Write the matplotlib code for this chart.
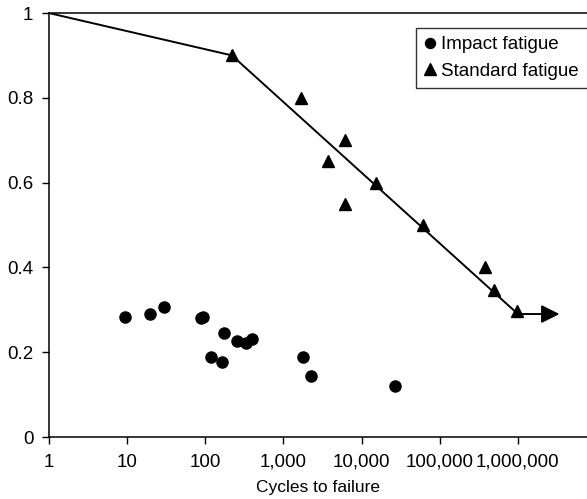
import numpy as np
import matplotlib
matplotlib.use("Agg")
import matplotlib.pyplot as plt
from matplotlib.ticker import FixedLocator, FixedFormatter

plt.rcParams['font.family'] = ['Liberation Sans', 'DejaVu Sans']

# impact fatigue points (cycles, stress ratio)
impact_cycles = [9.5, 20, 29.5, 89, 95, 118, 174, 165, 257, 333, 395, 1800, 2280, 26500]
impact_ratio = [0.284, 0.289, 0.307, 0.280, 0.284, 0.189, 0.246, 0.178, 0.227, 0.222, 0.230,
                0.188, 0.145, 0.121]

# standard fatigue points
std_cycles = [220, 1660, 3700, 6200, 6200, 15400, 60700, 377000, 500000, 980000]
std_ratio = [0.90, 0.80, 0.65, 0.70, 0.55, 0.60, 0.50, 0.40, 0.347, 0.298]

# fitted curve and run-out arrow
curve_cycles = [1, 220, 1e6]
curve_ratio = [1.0, 0.9, 0.29]
arrow_end = 3.4e6

x_ticks = [1, 10, 100, 1e3, 1e4, 1e5, 1e6]
x_labels = ['1', '10', '100', '1,000', '10,000', '100,000', '1,000,000']
y_ticks = [0, 0.2, 0.4, 0.6, 0.8, 1.0]
y_labels = ['0', '0.2', '0.4', '0.6', '0.8', '1']

fig = plt.figure(figsize=(5.87, 4.99), dpi=100)
ax = fig.add_axes([48.7 / 587, 62 / 499, 539.6 / 587, 424 / 499])

ax.plot(curve_cycles, curve_ratio, color='black', lw=1.4, zorder=2)
ax.annotate('', xy=(arrow_end, curve_ratio[-1]), xytext=(curve_cycles[-1], curve_ratio[-1]),
            arrowprops=dict(arrowstyle='-|>,head_length=1.0,head_width=0.5', mutation_scale=11,
                            lw=1.4, color='black', shrinkA=0, shrinkB=0), zorder=2)

ax.plot(impact_cycles, impact_ratio, 'o', color='black', ms=8, ls='none', label='Impact fatigue', zorder=3)
ax.plot(std_cycles, std_ratio, '^', color='black', ms=9, ls='none', label='Standard fatigue', zorder=3)

ax.set_xscale('log')
ax.set_xlim(1, 10 ** 6.9)
ax.set_ylim(0, 1)
ax.xaxis.set_major_locator(FixedLocator(x_ticks))
ax.xaxis.set_major_formatter(FixedFormatter(x_labels))
ax.xaxis.set_minor_locator(FixedLocator([]))
ax.set_yticks(y_ticks)
ax.set_yticklabels(y_labels)
ax.tick_params(axis='both', direction='out', length=5, width=1, labelsize=13.5)
ax.tick_params(axis='x', pad=7)
ax.tick_params(axis='y', pad=6)

for s in ['left', 'bottom', 'top']:
    ax.spines[s].set_linewidth(1.1)
ax.spines['right'].set_visible(False)

ax.set_xlabel('Cycles to failure', fontsize=12.5, labelpad=7)

leg = ax.legend(loc='upper left', bbox_to_anchor=(0.681, 0.965), fontsize=13.5, frameon=True,
                fancybox=False, edgecolor='black', handlelength=0.6, handletextpad=0.3,
                borderaxespad=0, borderpad=0.45, labelspacing=0.5, markerscale=0.9)
leg.get_frame().set_linewidth(1.0)

fig.savefig('out.png', dpi=100)
